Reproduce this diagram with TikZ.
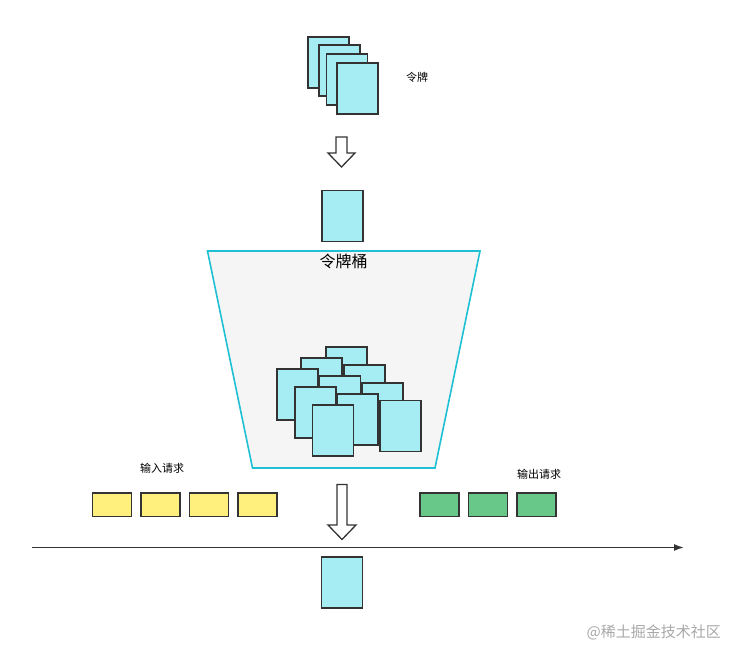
\documentclass[tikz,border=0pt]{standalone}
\usepackage{fontspec}
\setmainfont{Noto Sans CJK SC}
\usetikzlibrary{arrows.meta}
\definecolor{cardfill}{HTML}{A6ECF3}
\definecolor{cardline}{HTML}{333333}
\definecolor{bucketline}{HTML}{1FBFD4}
\definecolor{bucketfill}{HTML}{F5F5F5}
\definecolor{yel}{HTML}{FFEF7C}
\definecolor{grn}{HTML}{67C889}
\definecolor{wm}{HTML}{A8A8A8}
\tikzset{
  card/.style={draw=cardline, fill=cardfill, line width=1.6pt, minimum width=41pt, minimum height=51pt, inner sep=0pt, anchor=north west},
  req/.style={draw=cardline, line width=1.6pt, minimum width=39pt, minimum height=23.5pt, inner sep=0pt, anchor=north west},
  yreq/.style={req, fill=yel},
  greq/.style={req, fill=grn},
  hollow/.style={draw=cardline, fill=white, line width=1.3pt, line join=miter},
  lbl/.style={font=\fontsize{11}{13}\selectfont, text=black, inner sep=0pt},
}
\begin{document}
\begin{tikzpicture}[x=1pt,y=-1pt]
\useasboundingbox (0,0) rectangle (739,658);
% top stack
\node[card] (t1) at (307,36) {};
\node[card] (t2) at (318,44.5) {};
\node[card] (t3) at (325.5,53.5) {};
\node[card] (t4) at (336,62.5) {};
\node[lbl] (tl) at (417,77) {令牌};
% arrow 1
\path[hollow] (336,137) -- (347,137) -- (347,153) -- (355,153) -- (341.5,167) -- (328,153) -- (336,153) -- cycle;
% single card
\node[card] (s1) at (321,189.5) {};
% bucket
\path[draw=bucketline, fill=bucketfill, line width=1.6pt] (207.5,251) -- (480,251) -- (435,468) -- (252.5,468) -- cycle;
\node[font=\fontsize{16}{18}\selectfont, inner sep=0pt] (bl) at (343.5,261) {令牌桶};
% cards inside bucket
\node[card] (bA) at (325,346) {};
\node[card] (bB) at (300,357) {};
\node[card] (bC) at (343,364) {};
\node[card] (bD) at (276,368) {};
\node[card] (bE) at (318.5,375) {};
\node[card] (bF) at (361,382) {};
\node[card] (bG) at (294,386) {};
\node[card] (bH) at (336,393) {};
\node[card] (bI) at (379,399.5) {};
\node[card] (bJ) at (311.5,404) {};
% input requests
\node[lbl] (il) at (162,468) {输入请求};
\node[yreq] (y1) at (91.5,492) {};
\node[yreq] (y2) at (140,492) {};
\node[yreq] (y3) at (188.5,492) {};
\node[yreq] (y4) at (237,492) {};
% output requests
\node[lbl] (ol) at (539,474) {输出请求};
\node[greq] (g1) at (419,492) {};
\node[greq] (g2) at (467.5,492) {};
\node[greq] (g3) at (516,492) {};
% arrow 2
\path[hollow] (337,484.5) -- (347,484.5) -- (347,525) -- (356,525) -- (342,539.5) -- (328,525) -- (337,525) -- cycle;
% axis
\coordinate (ax0) at (32,547.5);
\coordinate (ax1) at (684,547.5);
\draw[draw=cardline, line width=1.5pt, -{Latex[length=10pt,width=7pt]}] (ax0) -- (ax1);
% bottom card
\node[card] (s2) at (320.5,556) {};
% watermark
\node[font=\fontsize{15}{17}\selectfont, text=wm, inner sep=0pt, anchor=east] (w) at (721,632) {@稀土掘金技术社区};
\end{tikzpicture}
\end{document}
